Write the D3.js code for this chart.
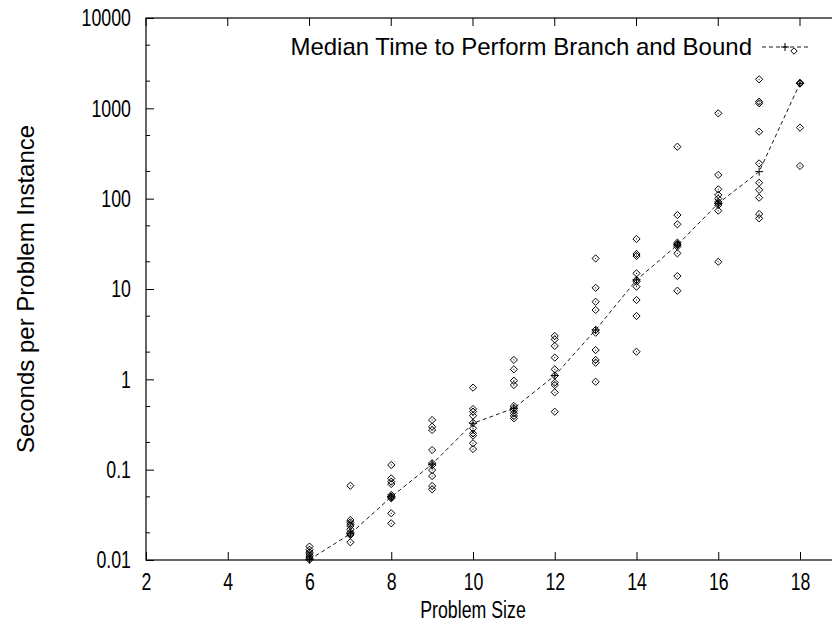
<!DOCTYPE html>
<html>
<head>
<meta charset="utf-8">
<script src="https://cdn.jsdelivr.net/npm/d3@7/dist/d3.min.js"></script>
<style>
  html, body { margin: 0; padding: 0; background: #fff; }
  svg { display: block; }
  text { font-family: "Liberation Sans", Arial, Helvetica, sans-serif; fill: #000; }
</style>
</head>
<body>
<svg id="chart" width="832" height="624"></svg>
<script>
// ---- data ----
const problemSizes = [6, 7, 8, 9, 10, 11, 12, 13, 14, 15, 16, 17, 18];
const instanceTimes = [
  [0.0141, 0.0130, 0.0122, 0.0117, 0.0112, 0.0108, 0.0104, 0.0101],
  [0.0664, 0.0277, 0.0261, 0.0248, 0.0238, 0.0219, 0.0202, 0.0195, 0.0189, 0.0157],
  [0.1127, 0.0801, 0.0736, 0.0694, 0.0524, 0.0505, 0.0495, 0.0482, 0.0329, 0.0255],
  [0.355, 0.299, 0.275, 0.165, 0.118, 0.112, 0.099, 0.085, 0.066, 0.0606],
  [0.809, 0.470, 0.439, 0.396, 0.330, 0.287, 0.252, 0.238, 0.196, 0.169],
  [1.64, 1.29, 0.966, 0.865, 0.507, 0.478, 0.450, 0.421, 0.393, 0.370],
  [3.02, 2.77, 2.34, 1.74, 1.29, 1.10, 0.918, 0.865, 0.718, 0.438],
  [21.8, 10.3, 7.23, 5.86, 3.52, 3.28, 2.11, 1.64, 1.53, 0.94],
  [35.8, 24.4, 23.2, 14.9, 12.6, 12.05, 10.6, 7.55, 5.02, 2.02],
  [376, 65.9, 52, 32.6, 31.5, 30.7, 29.5, 24.8, 13.9, 9.57],
  [881, 183, 127, 110, 100, 92, 88.7, 85, 73.6, 20.0],
  [2096, 1185, 1137, 551, 246, 150, 125, 102.5, 67.6, 60.6],
  [1910, 1893, 1880, 611, 230]
];
const medianTimes = [0.0101, 0.0195, 0.050, 0.115, 0.326, 0.478, 1.10, 3.52, 12.6, 30.7, 88.7, 199, 1893];
const xTickValues = [2, 4, 6, 8, 10, 12, 14, 16, 18];
const yTickValues = [0.01, 0.1, 1, 10, 100, 1000, 10000];
const yTickLabels = ["0.01", "0.1", "1", "10", "100", "1000", "10000"];
const legendLabel = "Median Time to Perform Branch and Bound";
const xTitle = "Problem Size";
const yTitle = "Seconds per Problem Instance";

// ---- layout ----
const svg = d3.select("#chart");
const plotLeft = 146, plotTop = 18, plotBottom = 560;
const x = d3.scaleLinear().domain([2, 19]).range([plotLeft, plotLeft + 17 * (654 / 16)]);
const y = d3.scaleLog().domain([0.01, 10000]).range([plotBottom, plotTop]);
const plotRight = x(19);
const fontSize = 24;
const squeeze = 0.74; // tick labels / x title are horizontally condensed in the reference

// frame
svg.append("rect")
  .attr("x", plotLeft).attr("y", plotTop)
  .attr("width", plotRight - plotLeft).attr("height", plotBottom - plotTop)
  .attr("fill", "none").attr("stroke", "#000").attr("stroke-width", 1.2);

// y minor ticks (2 and 5 in each decade)
const yMinor = [];
for (let e = -2; e < 4; e++) { [2, 5].forEach(m => yMinor.push(m * Math.pow(10, e))); }
svg.append("g").selectAll("line").data(yMinor).join("line")
  .attr("x1", plotLeft).attr("x2", plotLeft + 4)
  .attr("y1", d => y(d)).attr("y2", d => y(d))
  .attr("stroke", "#000");

// axes
const yAxis = d3.axisLeft(y).tickValues(yTickValues)
  .tickFormat((d, i) => yTickLabels[i]).tickSize(-8).tickSizeOuter(0).tickPadding(15);
const gy = svg.append("g").attr("transform", `translate(${plotLeft},0)`).call(yAxis);
gy.select(".domain").remove();
gy.selectAll("text").attr("font-size", fontSize).attr("font-family", null)
  .attr("x", 0).attr("transform", `translate(-15,0) scale(${squeeze},1)`);

const xAxis = d3.axisBottom(x).tickValues(xTickValues).tickFormat(d => String(d))
  .tickSize(-8).tickSizeOuter(0).tickPadding(13);
const gx = svg.append("g").attr("transform", `translate(0,${plotBottom})`).call(xAxis);
gx.select(".domain").remove();
gx.selectAll("text").attr("font-size", fontSize).attr("font-family", null)
  .attr("transform", `scale(${squeeze},1)`);

// mirrored top ticks
svg.append("g").selectAll("line").data(xTickValues).join("line")
  .attr("x1", d => x(d)).attr("x2", d => x(d))
  .attr("y1", plotTop).attr("y2", plotTop + 8).attr("stroke", "#000");

gx.selectAll(".tick line").attr("stroke", "#000");
gy.selectAll(".tick line").attr("stroke", "#000");

// titles
svg.append("text")
  .attr("transform", `translate(${(plotLeft + 800) / 2},618) scale(${squeeze},1)`)
  .attr("text-anchor", "middle").attr("font-size", fontSize).text(xTitle);
svg.append("text")
  .attr("transform", `translate(34,${(plotTop + plotBottom) / 2}) rotate(-90)`)
  .attr("text-anchor", "middle").attr("font-size", fontSize).text(yTitle);

// diamonds
const diamond = (cx, cy, r) => `M${cx},${cy - r}L${cx + r},${cy}L${cx},${cy + r}L${cx - r},${cy}Z`;
const pts = [];
problemSizes.forEach((n, i) => instanceTimes[i].forEach(v => pts.push({ n, v })));
const gp = svg.append("g");
gp.selectAll("path").data(pts).join("path")
  .attr("d", d => diamond(x(d.n), y(d.v), 3.6))
  .attr("fill", "none").attr("stroke", "#000").attr("stroke-width", 1);
gp.selectAll("rect").data(pts).join("rect")
  .attr("x", d => x(d.n) - 0.5).attr("y", d => y(d.v) - 0.5)
  .attr("width", 1).attr("height", 1).attr("fill", "#000");

// median line
const line = d3.line().x((d, i) => x(problemSizes[i])).y(d => y(d));
svg.append("path").datum(medianTimes).attr("d", line)
  .attr("fill", "none").attr("stroke", "#000").attr("stroke-width", 0.9)
  .attr("stroke-dasharray", "4,3");
const plus = (cx, cy, r) => `M${cx - r},${cy}H${cx + r}M${cx},${cy - r}V${cy + r}`;
svg.append("g").selectAll("path").data(medianTimes).join("path")
  .attr("d", (d, i) => plus(x(problemSizes[i]), y(d), 4))
  .attr("stroke", "#000").attr("stroke-width", 1);

// legend
const ly = 47;
svg.append("text").attr("x", 752).attr("y", ly).attr("dy", "0.35em")
  .attr("text-anchor", "end").attr("font-size", fontSize).text(legendLabel);
svg.append("line").attr("x1", 762).attr("x2", 809).attr("y1", ly).attr("y2", ly)
  .attr("stroke", "#000").attr("stroke-width", 0.9).attr("stroke-dasharray", "4,3");
svg.append("path").attr("d", plus(785, ly, 4)).attr("stroke", "#000");
svg.append("path").attr("d", diamond(794, ly + 4, 3.2)).attr("fill", "#fff").attr("stroke", "#000");
</script>
</body>
</html>
